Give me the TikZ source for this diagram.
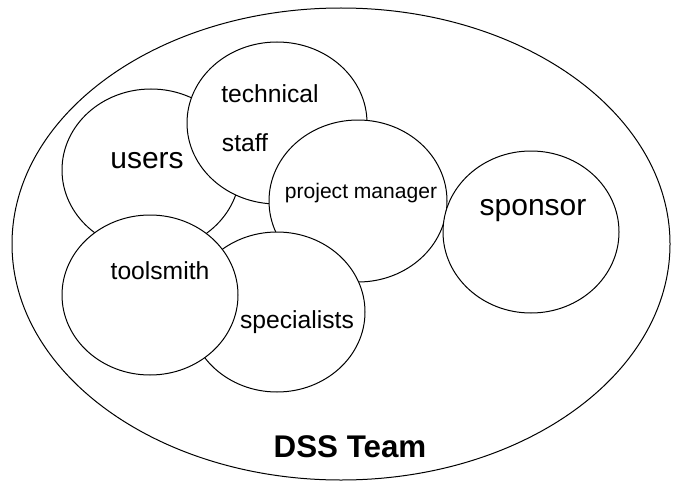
\documentclass[tikz,border=0pt]{standalone}
\usepackage{fontspec}
\setmainfont{Liberation Sans}

\tikzset{every picture/.style={line width=0.75pt}}
\tikzset{
  member/.style={draw, fill=white},
  biglabel/.style={anchor=base, font=\fontsize{22.5}{26}\selectfont},
  midlabel/.style={anchor=base, font=\fontsize{18.5}{22}\selectfont},
  smalllabel/.style={anchor=base, font=\fontsize{15.8}{19}\selectfont}
}

\begin{document}
\begin{tikzpicture}[x=0.75pt,y=0.75pt,yscale=-1,xscale=1]
	\useasboundingbox (0,0) rectangle (674,485);

	%Shape: Ellipse [team]
	\draw (341,244) ellipse (329 and 236);
	%Shape: Ellipse [users]
	\draw [member] (151,170) ellipse (89 and 81);
	%Shape: Ellipse [technical staff]
	\draw [member] (277,123) ellipse (90 and 81);
	%Shape: Ellipse [project manager]
	\draw [member] (358,201) ellipse (89 and 81);
	%Shape: Ellipse [specialists]
	\draw [member] (277,312) ellipse (88 and 80);
	%Shape: Ellipse [toolsmith]
	\draw [member] (150,295) ellipse (88 and 80);
	%Shape: Ellipse [sponsor]
	\draw [member] (531,232) ellipse (88 and 81);

	% Text Node
	\draw (147,168) node [biglabel] (users) {users};
	% Text Node
	\draw (270,103) node [midlabel] (technical) {technical};
	% Text Node
	\draw (245,151) node [midlabel] (staff) {staff};
	% Text Node
	\draw (361,198) node [smalllabel] (manager) {project manager};
	% Text Node
	\draw (533,215) node [biglabel] (sponsor) {sponsor};
	% Text Node
	\draw (160,279) node [midlabel] (toolsmith) {toolsmith};
	% Text Node
	\draw (297,328) node [midlabel] (specialists) {specialists};
	% Text Node
	\draw (350,457) node [biglabel, font=\fontsize{23.5}{28}\selectfont\bfseries] (team) {DSS Team};

\end{tikzpicture}
\end{document}
